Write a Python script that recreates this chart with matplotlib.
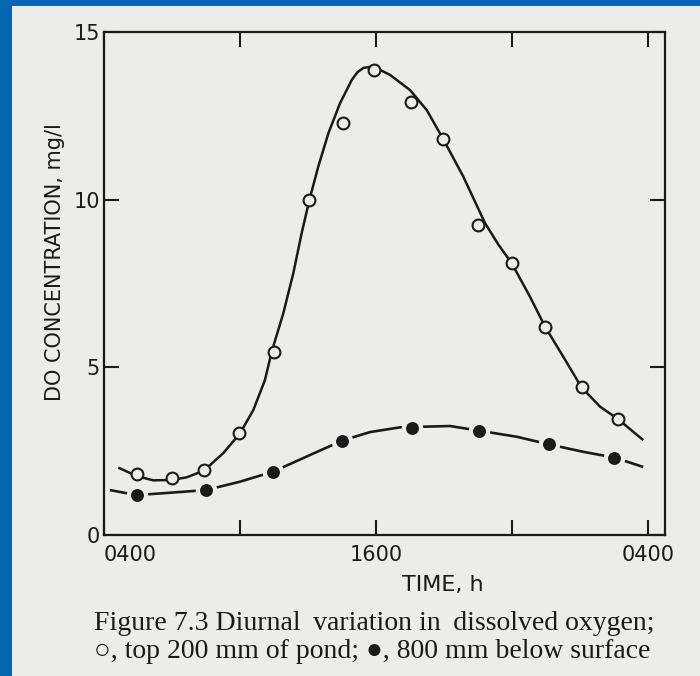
import matplotlib
matplotlib.use("Agg")
import matplotlib.pyplot as plt
from matplotlib.patches import Rectangle

# measured points, hour of day (4 = 0400, 28 = 0400 next day) and DO in mg/l
top_hours = [5.44, 6.99, 8.41, 9.97, 11.48, 13.06, 14.53, 15.89, 17.56, 18.94, 20.51, 22.00, 23.45, 25.07, 26.69]
top_do = [1.82, 1.71, 1.94, 3.03, 5.47, 9.99, 12.28, 13.87, 12.92, 11.80, 9.25, 8.10, 6.21, 4.41, 3.45]
bottom_hours = [5.44, 8.50, 11.47, 14.49, 17.57, 20.56, 23.65, 26.51]
bottom_do = [1.19, 1.34, 1.89, 2.81, 3.18, 3.11, 2.70, 2.30]

# the hand drawn curves
top_curve_h = [4.63, 5.44, 6.17, 6.96, 7.65, 8.41, 9.26, 10.00, 10.59, 11.10, 11.40, 11.91,
               12.35, 12.72, 13.06, 13.45, 13.90, 14.41, 14.93, 15.18, 15.45, 15.88, 16.62, 17.50,
               18.24, 18.97, 19.85, 20.81, 21.40, 21.99, 22.79, 23.46, 24.26, 25.07, 25.88, 26.69, 27.79]
top_curve_do = [2.01, 1.76, 1.63, 1.64, 1.72, 1.92, 2.44, 3.03, 3.73, 4.62, 5.47, 6.61,
                7.80, 9.00, 9.99, 10.98, 11.98, 12.87, 13.57, 13.80, 13.93, 13.97, 13.72, 13.27,
                12.67, 11.80, 10.69, 9.30, 8.66, 8.10, 7.11, 6.21, 5.32, 4.40, 3.83, 3.45, 2.83]
bottom_curve_h = [4.26, 5.44, 6.91, 8.50, 10.00, 11.47, 12.94, 14.49, 15.74, 17.06, 17.57,
                  19.26, 20.56, 22.21, 23.65, 25.15, 26.51, 27.79]
bottom_curve_do = [1.34, 1.19, 1.26, 1.34, 1.59, 1.89, 2.34, 2.81, 3.07, 3.21, 3.22,
                   3.25, 3.11, 2.93, 2.70, 2.48, 2.31, 2.03]

tick_hours = [4, 10, 16, 22, 28]
tick_names = ['0400', '', '1600', '', '0400']
do_ticks = [0, 5, 10, 15]

blue = '#0766b2'
paper = '#ececeb'
ink = '#1a1a1a'

fig = plt.figure(figsize=(7, 6.76), dpi=100, facecolor=blue)
fig.patches.append(Rectangle((12 / 700, 0), 1, 1 - 6 / 676, transform=fig.transFigure,
                             facecolor=paper, edgecolor='none', zorder=-5))

ax = fig.add_axes([104 / 700, 1 - 535 / 676, 561 / 700, 503 / 676])
ax.set_facecolor('none')

# top 200 mm: solid curve, open circles
ax.plot(top_curve_h, top_curve_do, color=ink, lw=1.8, solid_capstyle='butt',
        solid_joinstyle='round', zorder=2)
ax.plot(top_hours, top_do, 'o', ms=8.5, mfc=paper, mec=ink, mew=1.5, zorder=3)

# 800 mm: line broken around the filled dots
ax.plot(bottom_curve_h, bottom_curve_do, color=ink, lw=1.9, solid_capstyle='butt',
        solid_joinstyle='round', zorder=2)
ax.plot(bottom_hours, bottom_do, 'o', ms=15.5, mfc=paper, mec='none', zorder=3)
ax.plot(bottom_hours, bottom_do, 'o', ms=9.3, mfc=ink, mec='none', zorder=4)

ax.set_xlim(4, 28.75)
ax.set_ylim(0, 15)
ax.set_xticks(tick_hours)
ax.set_xticklabels(tick_names)
ax.set_yticks(do_ticks)
ax.tick_params(direction='in', length=11, width=1.5, color=ink, labelcolor=ink,
               labelsize=15, top=True, right=True)
ax.tick_params(axis='x', pad=7)
ax.tick_params(axis='y', pad=3)
ax.get_xticklabels()[0].set_ha('left')
for s in ax.spines.values():
    s.set_linewidth(1.6)
    s.set_color(ink)

fig.text(55 / 700, 1 - 262 / 676, 'DO CONCENTRATION, mg/l', rotation=90, ha='center',
         va='center', fontsize=15, color=ink)
fig.text(443 / 700, 1 - 585 / 676, 'TIME, h', ha='center', va='center', fontsize=16, color=ink)

serif = ['Liberation Serif', 'DejaVu Sans']
fig.text(94 / 700, 1 - 623 / 676,
         'Figure 7.3 Diurnal \u2009variation in \u2009dissolved oxygen;',
         ha='left', va='center', fontsize=20, color=ink, family=serif)
fig.text(94 / 700, 1 - 651 / 676, '\u25cb, top 200 mm of pond; \u25cf, 800 mm below surface',
         ha='left', va='center', fontsize=20, color=ink, family=serif)

fig.savefig('out.png', dpi=100, facecolor=fig.get_facecolor())
